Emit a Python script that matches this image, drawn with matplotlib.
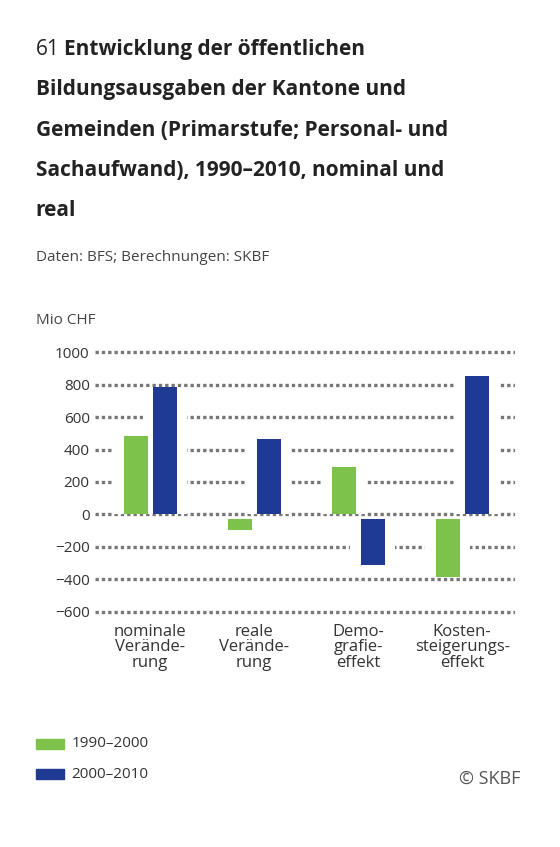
import matplotlib
matplotlib.use("Agg")
import matplotlib.pyplot as plt

categories = ["nominale\nVerände-\nrung", "reale\nVerände-\nrung", "Demo-\ngrafie-\neffekt", "Kosten-\nsteigerungs-\neffekt"]
v1990 = [486, -93, 295, -384]
v2000 = [787, 467, -310, 851]
yticks = [1000, 800, 600, 400, 200, 0, -200, -400, -600]
labels = ["1990–2000", "2000–2010"]
green = "#7dc24b"
blue = "#1f3a93"
NEG_GAP = 30

plt.rcParams['font.family'] = ['Open Sans', 'DejaVu Sans']
fig = plt.figure(figsize=(5.6, 8.47), dpi=100)

fig.text(0.064, 0.935, "61", fontsize=15, color="#222", va="baseline")
fig.text(0.115, 0.935, "Entwicklung der öffentlichen", fontsize=15, weight="bold", color="#222", va="baseline")
for i, line in enumerate(["Bildungsausgaben der Kantone und",
                          "Gemeinden (Primarstufe; Personal- und",
                          "Sachaufwand), 1990–2010, nominal und",
                          "real"]):
    fig.text(0.064, 0.935 - (i + 1) * 0.0475, line, fontsize=15, weight="bold", color="#222", va="baseline")
fig.text(0.064, 0.692, "Daten: BFS; Berechnungen: SKBF", fontsize=11, color="#444", va="baseline")
fig.text(0.064, 0.618, "Mio CHF", fontsize=11, color="#444", va="baseline")

ax = fig.add_axes([0.17, 0.270, 0.75, 0.320])
ax.set_ylim(-640, 1030)
ax.set_xlim(-0.53, 3.51)
for y in yticks:
    ax.axhline(y, color="#777", lw=2.4, ls=(0, (1.0, 0.9)), zorder=1)

xs = range(len(categories))
w = 0.23
off = 0.14
for vals, dx, c in [(v1990, -off, green), (v2000, off, blue)]:
    for x, v in zip(xs, vals):
        if v >= 0:
            b, h = 0, v
        else:
            b, h = -NEG_GAP, v + NEG_GAP
        ax.bar(x + dx, h, bottom=b, width=w + 0.2, color="white", zorder=2)
        ax.bar(x + dx, h, bottom=b, width=w, color=c, zorder=3)

ax.set_yticks(yticks)
ax.set_yticklabels(["1000", "800", "600", "400", "200", "0", "−200", "−400", "−600"], fontsize=11, color="#333")
ax.set_xticks(list(xs))
ax.set_xticklabels(categories, fontsize=12, color="#333", linespacing=0.95)
ax.tick_params(length=0, pad=4)
for s in ax.spines.values():
    s.set_visible(False)

from matplotlib.patches import Rectangle
for i, (lab, c) in enumerate(zip(labels, [green, blue])):
    y = 0.116 - i * 0.036
    fig.patches.append(Rectangle((0.064, y), 0.05, 0.012, transform=fig.transFigure, color=c))
    fig.text(0.128, y + 0.006, lab, fontsize=11, color="#333", va="center")
fig.text(0.93, 0.080, "© SKBF", fontsize=13, color="#555", ha="right", va="center")

fig.savefig("out.png", dpi=100)
